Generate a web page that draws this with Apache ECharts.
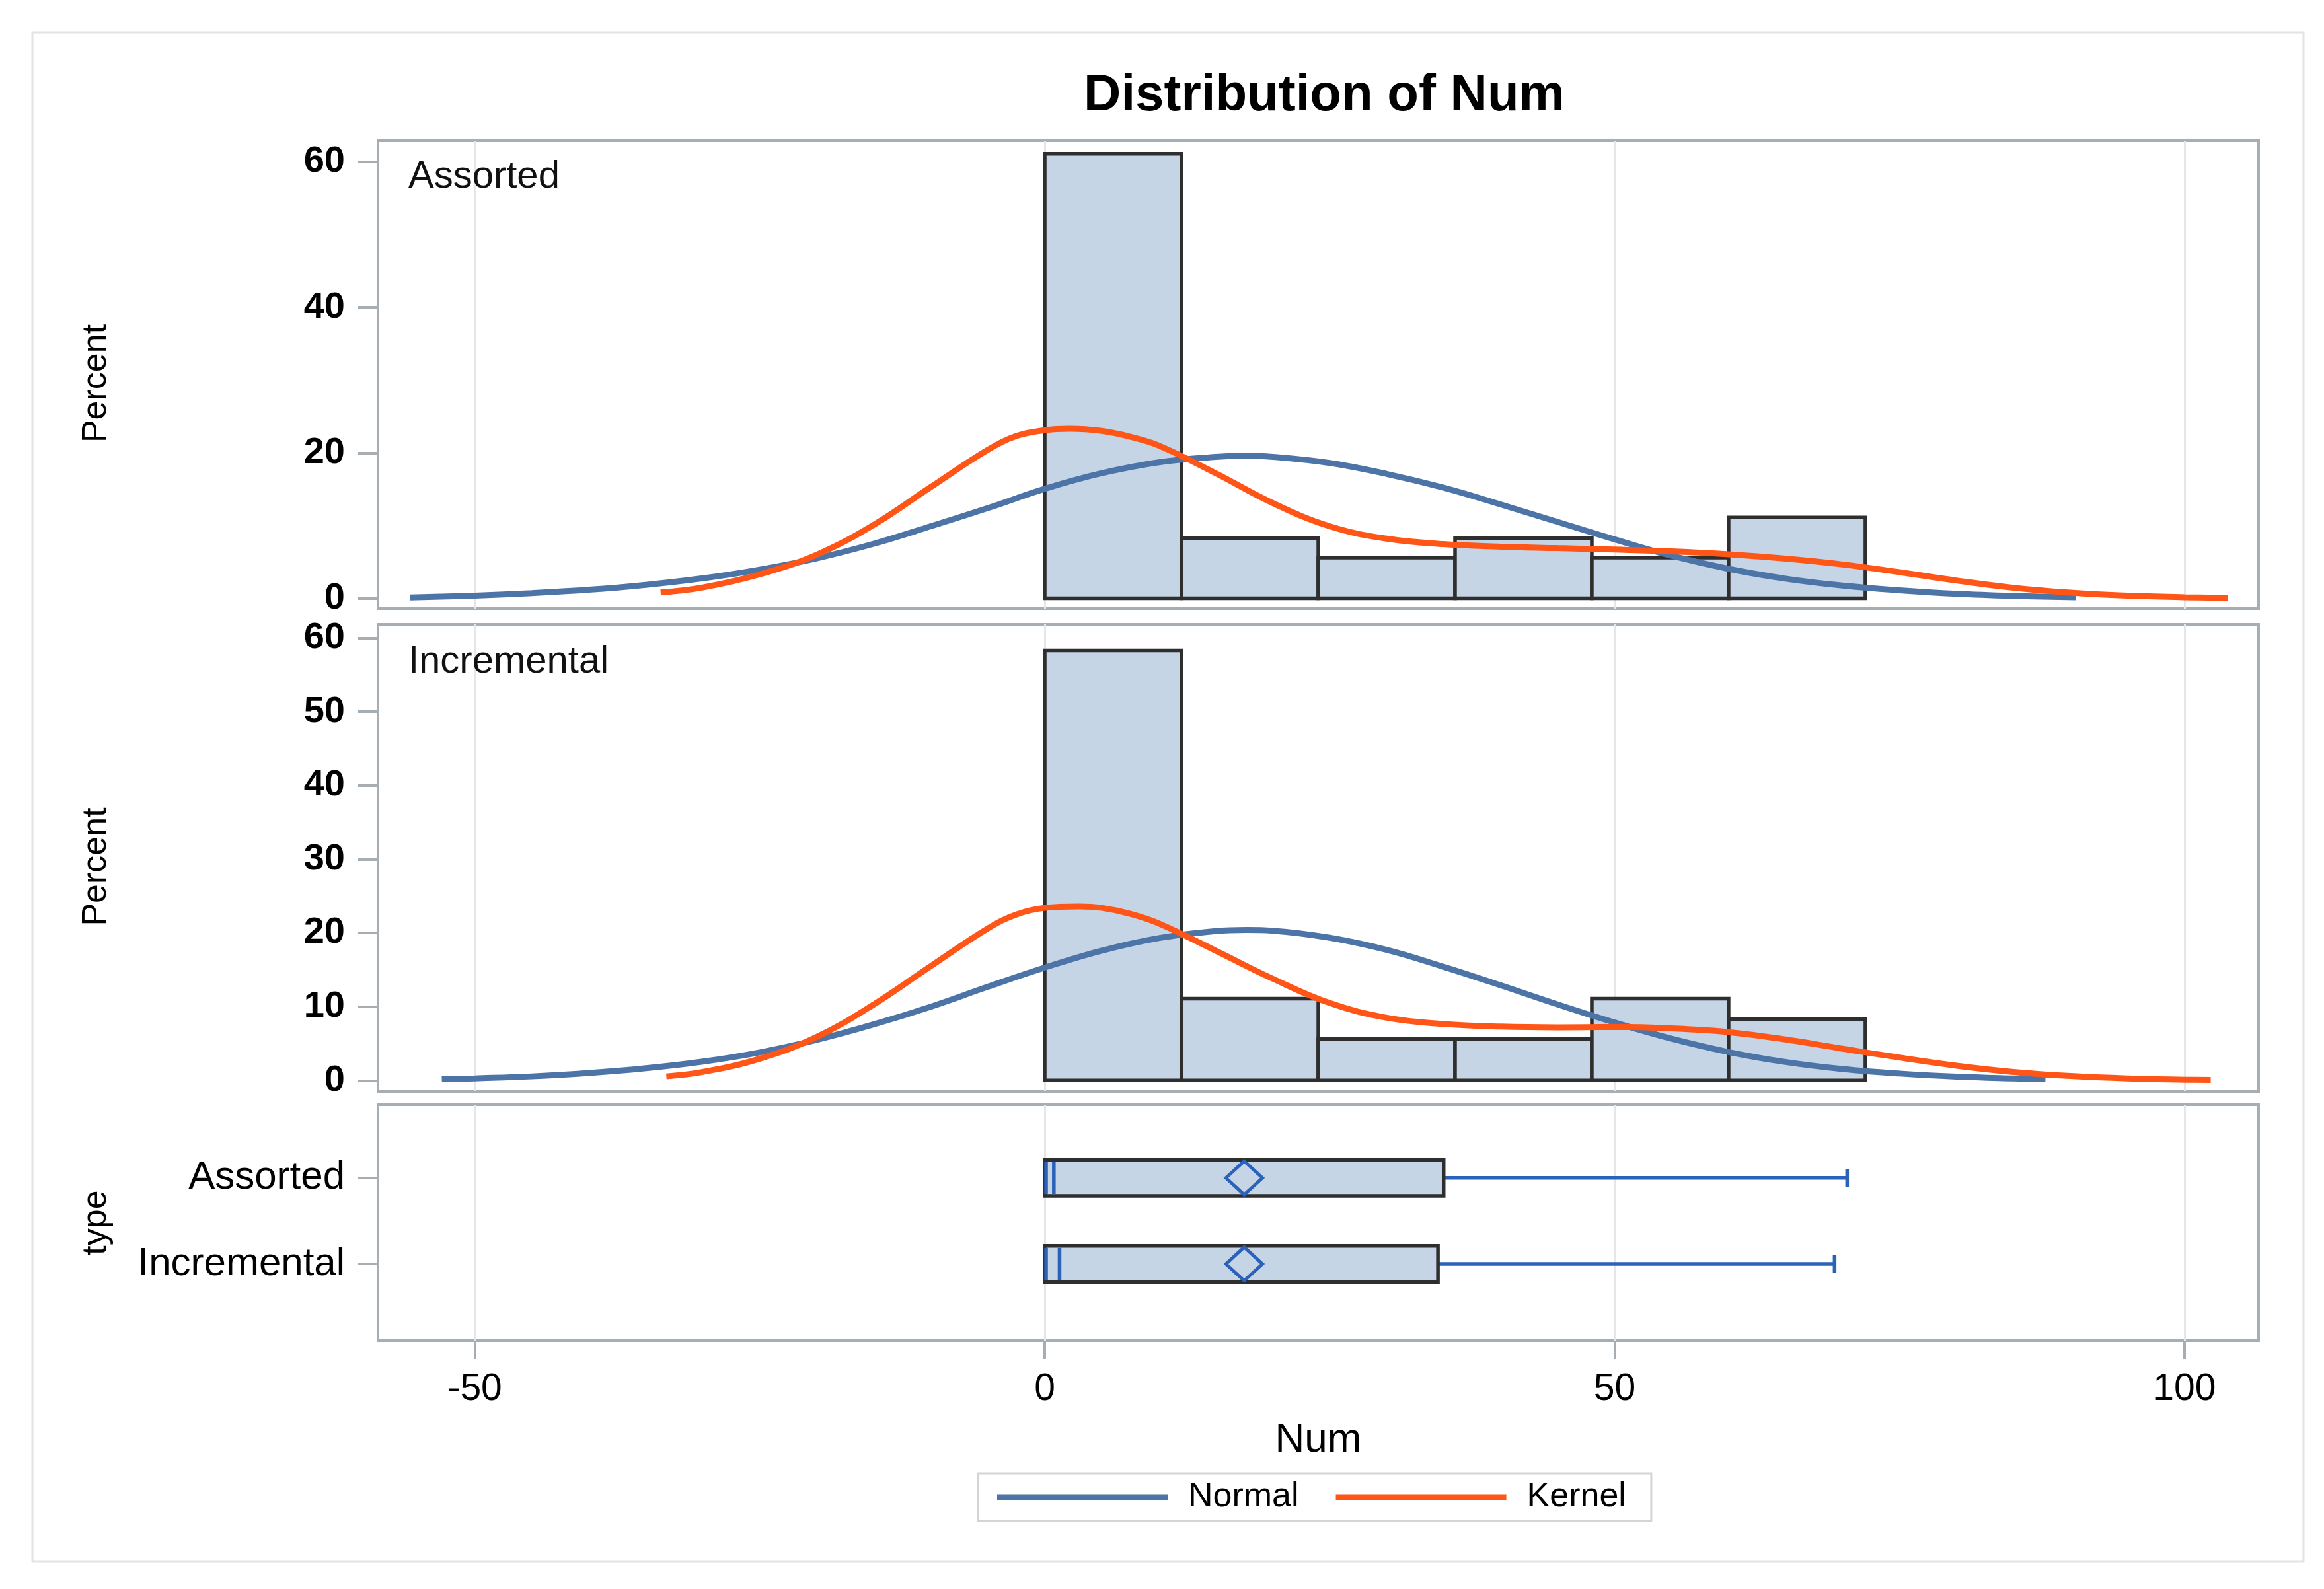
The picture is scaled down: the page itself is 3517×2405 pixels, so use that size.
<!DOCTYPE html>
<html>
<head>
<meta charset="utf-8">
<script src="https://cdn.jsdelivr.net/npm/echarts@6/dist/echarts.min.js"></script>
<style>
html,body{margin:0;padding:0;background:#ffffff;}
#chart{width:3517px;height:2405px;}
</style>
</head>
<body>
<div id="chart"></div>
<script>
// ---------------- data ----------------
const panelNames = ['Assorted', 'Incremental'];
const binStarts = [0, 12, 24, 36, 48, 60];
const binEnds = [12, 24, 36, 48, 60, 72];
const pctAssorted = [61.1, 8.3, 5.6, 8.3, 5.6, 11.1];
const pctIncremental = [58.3, 11.1, 5.6, 5.6, 11.1, 8.3];

const normalAssortedX = [-55.7, -50, -45, -40, -35, -30, -25, -20, -15, -10, -5, 0, 5, 10, 15, 17.6, 20, 25, 30, 35, 40, 45, 50, 55, 60, 65, 70, 75, 80, 85, 90.5];
const normalAssortedY = [0.12, 0.38, 0.72, 1.18, 1.85, 2.75, 3.95, 5.5, 7.5, 9.9, 12.4, 15.05, 17.2, 18.7, 19.45, 19.6, 19.45, 18.6, 17.1, 15.2, 12.9, 10.5, 8.1, 5.85, 4.05, 2.7, 1.75, 1.1, 0.62, 0.33, 0.14];

const kernelAssortedX = [-33.7, -30, -25, -20, -15, -10, -5, -2.5, 0, 2.2, 5, 7.5, 10, 15, 20, 25, 30, 35, 40, 45, 50, 55, 60, 65, 70, 75, 80, 85, 90, 95, 100, 103.8];
const kernelAssortedY = [0.8, 1.5, 3.3, 6.0, 10.1, 15.3, 20.4, 22.3, 23.1, 23.3, 23.0, 22.2, 21.0, 17.2, 13.1, 9.9, 8.2, 7.45, 7.1, 6.9, 6.7, 6.45, 6.05, 5.45, 4.65, 3.6, 2.45, 1.45, 0.78, 0.37, 0.15, 0.06];

const normalIncrementalX = [-52.9, -50, -45, -40, -35, -30, -25, -20, -15, -10, -5, 0, 5, 10, 15, 17.7, 20, 25, 30, 35, 40, 45, 50, 55, 60, 65, 70, 75, 80, 85, 87.8];
const normalIncrementalY = [0.15, 0.28, 0.55, 1.0, 1.65, 2.55, 3.8, 5.5, 7.6, 10.0, 12.7, 15.3, 17.6, 19.3, 20.25, 20.4, 20.3, 19.35, 17.7, 15.4, 12.9, 10.3, 7.85, 5.65, 3.85, 2.5, 1.55, 0.93, 0.52, 0.27, 0.17];

const kernelIncrementalX = [-33.2, -30, -25, -20, -15, -10, -5, -2.5, 0, 3, 5, 7.5, 10, 15, 20, 25, 30, 35, 40, 45, 50, 55, 60, 65, 70, 75, 80, 85, 90, 95, 100, 102.3];
const kernelIncrementalY = [0.55, 1.15, 2.95, 5.9, 10.3, 15.5, 20.6, 22.5, 23.4, 23.6, 23.4, 22.6, 21.3, 17.6, 13.8, 10.5, 8.5, 7.65, 7.3, 7.2, 7.25, 7.05, 6.55, 5.55, 4.3, 3.1, 2.0, 1.15, 0.6, 0.27, 0.1, 0.06];

// box plot statistics (per type: Assorted, Incremental)
const boxMin = [0, 0];
const boxQ1 = [0, 0];
const boxMedian = [0.8, 1.3];
const boxQ3 = [35.0, 34.5];
const boxMax = [70.4, 69.3];
const boxMean = [17.5, 17.5];

const xTicks = [-50, 0, 50, 100];
const yTicksTop = [0, 20, 40, 60];
const yTicksMid = [0, 10, 20, 30, 40, 50, 60];
const typeTicks = [1, 2];

// ---------------- styles ----------------
const FONT = '"Liberation Sans", Arial, Helvetica, sans-serif';
const FRAME = '#a6aeb4';
const GRIDC = '#e6e6e6';
const BARFILL = '#c5d5e6';
const BAREDGE = '#2e2e2e';
const BLUE_NORMAL = '#4c74a6';
const ORANGE_KERNEL = '#ff5516';
const BOXBLUE = '#2a62b9';

const chart = echarts.init(document.getElementById('chart'), null, {renderer: 'canvas', devicePixelRatio: 1});

const pairs = (xs, ys) => xs.map((x, i) => [x, ys[i]]);
const bins = (vals) => binStarts.map((s, i) => [s, binEnds[i], vals[i]]);

function renderBar(params, api) {
  const p0 = api.coord([api.value(0), api.value(2)]);
  const p1 = api.coord([api.value(1), 0]);
  return {
    type: 'rect',
    shape: {x: p0[0], y: p0[1], width: p1[0] - p0[0], height: p1[1] - p0[1]},
    style: {fill: BARFILL, stroke: BAREDGE, lineWidth: 5.5}
  };
}

function renderBox(params, api) {
  const yv = api.value(0);
  const pMin = api.coord([api.value(1), yv]);
  const pQ1 = api.coord([api.value(2), yv]);
  const pMed = api.coord([api.value(3), yv]);
  const pQ3 = api.coord([api.value(4), yv]);
  const pMax = api.coord([api.value(5), yv]);
  const pMean = api.coord([api.value(6), yv]);
  const h = api.size([0, 0.42])[1];
  const cap = api.size([0, 0.21])[1];
  const dw = api.size([1.6, 0])[0];
  const cy = pQ1[1];
  const lw = 5.5;
  return {
    type: 'group',
    children: [
      {type: 'line', shape: {x1: pQ3[0], y1: cy, x2: pMax[0], y2: cy}, style: {stroke: BOXBLUE, lineWidth: lw}},
      {type: 'line', shape: {x1: pMin[0], y1: cy, x2: pQ1[0], y2: cy}, style: {stroke: BOXBLUE, lineWidth: lw}},
      {type: 'line', shape: {x1: pMax[0], y1: cy - cap / 2, x2: pMax[0], y2: cy + cap / 2}, style: {stroke: BOXBLUE, lineWidth: lw}},
      {type: 'rect', shape: {x: pQ1[0], y: cy - h / 2, width: pQ3[0] - pQ1[0], height: h}, style: {fill: BARFILL, stroke: BAREDGE, lineWidth: 5.5}},
      {type: 'line', shape: {x1: pMin[0] + 2, y1: cy - h / 2 + 3, x2: pMin[0] + 2, y2: cy + h / 2 - 3}, style: {stroke: BOXBLUE, lineWidth: lw}},
      {type: 'line', shape: {x1: pMed[0], y1: cy - h / 2 + 3, x2: pMed[0], y2: cy + h / 2 - 3}, style: {stroke: BOXBLUE, lineWidth: lw}},
      {type: 'polygon', shape: {points: [[pMean[0], cy - h / 2 + 2], [pMean[0] + dw, cy], [pMean[0], cy + h / 2 - 2], [pMean[0] - dw, cy]]},
        style: {fill: 'none', stroke: BOXBLUE, lineWidth: 5}}
    ]
  };
}

const gridBase = {left: 572, width: 2846, show: true, borderColor: FRAME, borderWidth: 4, backgroundColor: '#ffffff'};

function xAxisFor(idx, showLabels) {
  return {
    type: 'value', gridIndex: idx, min: -58.5, max: 106.5,
    axisLine: {show: false, onZero: false},
    axisTick: {show: showLabels, customValues: xTicks, length: 28, lineStyle: {color: FRAME, width: 4}},
    axisLabel: {show: showLabels, customValues: xTicks, margin: 46, fontSize: 57, color: '#000', fontFamily: FONT},
    splitLine: {show: true, lineStyle: {color: GRIDC, width: 3}},
    name: showLabels ? 'Num' : '',
    nameLocation: 'middle', nameGap: 120,
    nameTextStyle: {fontSize: 62, color: '#000', fontFamily: FONT}
  };
}

function yAxisPct(idx, min, max, ticks) {
  return {
    type: 'value', gridIndex: idx, min: min, max: max,
    axisLine: {show: false, onZero: false},
    axisTick: {show: true, customValues: ticks, length: 30, lineStyle: {color: FRAME, width: 4}},
    axisLabel: {customValues: ticks, margin: 50, fontSize: 56, fontWeight: 'bold', color: '#000', fontFamily: FONT},
    splitLine: {show: false},
    name: 'Percent', nameLocation: 'middle', nameGap: 400,
    nameTextStyle: {fontSize: 52, color: '#000', fontFamily: FONT, padding: [0, 27, 0, 0]}
  };
}

const option = {
  animation: false,
  backgroundColor: '#ffffff',
  title: [
    {text: 'Distribution of Num', left: 1999, top: 101, textAlign: 'center',
      textStyle: {fontSize: 78, fontWeight: 'bold', color: '#000', fontFamily: FONT}},
    {text: panelNames[0], left: 613, top: 234, textStyle: {fontSize: 58, fontWeight: 'normal', color: '#111', fontFamily: FONT}},
    {text: panelNames[1], left: 613, top: 968, textStyle: {fontSize: 58, fontWeight: 'normal', color: '#111', fontFamily: FONT}}
  ],
  legend: {
    data: ['Normal', 'Kernel'],
    left: 1480, top: 2230,
    orient: 'horizontal',
    icon: 'rect',
    itemWidth: 258, itemHeight: 9, itemGap: 56,
    padding: [10, 38, 10, 29],
    borderColor: '#d4d4d4', borderWidth: 3,
    textStyle: {fontSize: 52, color: '#000', fontFamily: FONT, padding: [0, 0, 0, 26]}
  },
  graphic: [
    {type: 'rect', shape: {x: 49, y: 49, width: 3437, height: 2314}, style: {fill: 'none', stroke: '#e3e3e3', lineWidth: 3}, silent: true}
  ],
  grid: [
    Object.assign({}, gridBase, {top: 213, height: 708}),
    Object.assign({}, gridBase, {top: 945, height: 707}),
    Object.assign({}, gridBase, {top: 1672, height: 357})
  ],
  xAxis: [xAxisFor(0, false), xAxisFor(1, false), xAxisFor(2, true)],
  yAxis: [
    yAxisPct(0, -1.4, 62.9, yTicksTop),
    yAxisPct(1, -1.5, 61.85, yTicksMid),
    {
      type: 'value', gridIndex: 2, min: 0.15, max: 2.89, inverse: true,
      axisLine: {show: false, onZero: false},
      axisTick: {show: true, customValues: typeTicks, length: 30, lineStyle: {color: FRAME, width: 4}},
      axisLabel: {customValues: typeTicks, margin: 50, fontSize: 60, color: '#000', fontFamily: FONT,
        formatter: (v) => panelNames[Math.round(v) - 1] || ''},
      splitLine: {show: false},
      name: 'type', nameLocation: 'middle', nameGap: 400,
      nameTextStyle: {fontSize: 52, color: '#000', fontFamily: FONT}
    }
  ],
  series: [
    {type: 'custom', name: 'hist-' + panelNames[0], xAxisIndex: 0, yAxisIndex: 0, renderItem: renderBar,
      data: bins(pctAssorted), encode: {x: [0, 1], y: 2}, z: 2},
    {type: 'custom', name: 'hist-' + panelNames[1], xAxisIndex: 1, yAxisIndex: 1, renderItem: renderBar,
      data: bins(pctIncremental), encode: {x: [0, 1], y: 2}, z: 2},
    {type: 'line', name: 'Normal', xAxisIndex: 0, yAxisIndex: 0, data: pairs(normalAssortedX, normalAssortedY),
      smooth: 0.4, symbol: 'none', lineStyle: {color: BLUE_NORMAL, width: 9}, itemStyle: {color: BLUE_NORMAL}, z: 3},
    {type: 'line', name: 'Kernel', xAxisIndex: 0, yAxisIndex: 0, data: pairs(kernelAssortedX, kernelAssortedY),
      smooth: 0.4, symbol: 'none', lineStyle: {color: ORANGE_KERNEL, width: 9}, itemStyle: {color: ORANGE_KERNEL}, z: 4},
    {type: 'line', name: 'Normal', xAxisIndex: 1, yAxisIndex: 1, data: pairs(normalIncrementalX, normalIncrementalY),
      smooth: 0.4, symbol: 'none', lineStyle: {color: BLUE_NORMAL, width: 9}, itemStyle: {color: BLUE_NORMAL}, z: 3},
    {type: 'line', name: 'Kernel', xAxisIndex: 1, yAxisIndex: 1, data: pairs(kernelIncrementalX, kernelIncrementalY),
      smooth: 0.4, symbol: 'none', lineStyle: {color: ORANGE_KERNEL, width: 9}, itemStyle: {color: ORANGE_KERNEL}, z: 4},
    {type: 'custom', name: 'box', xAxisIndex: 2, yAxisIndex: 2, renderItem: renderBox,
      data: panelNames.map((n, i) => [i + 1, boxMin[i], boxQ1[i], boxMedian[i], boxQ3[i], boxMax[i], boxMean[i]]),
      encode: {x: [1, 2, 3, 4, 5, 6], y: 0}, z: 2}
  ]
};

chart.setOption(option);
</script>
</body>
</html>
